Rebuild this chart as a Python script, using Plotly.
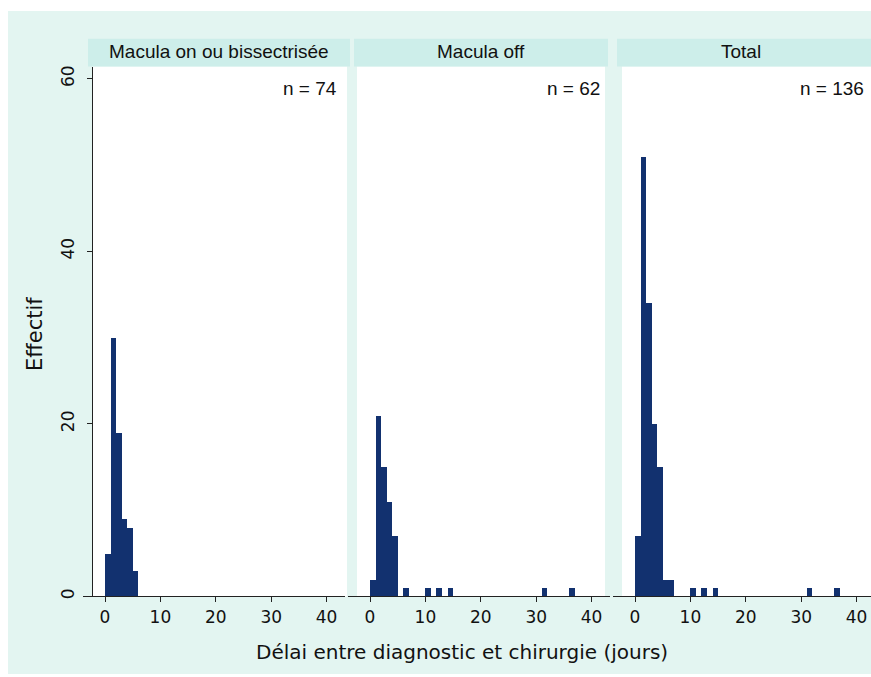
import plotly.graph_objects as go

# ---- data (bins of 1 day, value = bin start) ----
panel_titles = ["Macula on ou bissectrisée", "Macula off", "Total"]
n_labels = ["n = 74", "n = 62", "n = 136"]

on_days = [0, 1, 2, 3, 4, 5]
on_counts = [5, 30, 19, 9, 8, 3]

off_days = [0, 1, 2, 3, 4, 6, 10, 12, 14, 31, 36]
off_counts = [2, 21, 15, 11, 7, 1, 1, 1, 1, 1, 1]

tot_days = [0, 1, 2, 3, 4, 5, 6, 10, 12, 14, 31, 36]
tot_counts = [7, 51, 34, 20, 15, 2, 2, 1, 1, 1, 1, 1]

x_ticks = [0, 10, 20, 30, 40]
y_ticks = [0, 20, 40, 60]

# ---- layout: positions in reference pixels ----
W, H = 871, 677
BG = "#e3f5f1"
STRIP = "#cdeeea"
NAVY = "#12316f"
FONT = "DejaVu Sans, Liberation Sans, Arial, sans-serif"
FONT2 = "Liberation Sans, Arial, sans-serif"

def px(x):
    return min(1, x / W)

def py(y):
    return max(0, 1 - y / H)

ppu = 5.54  # pixels per day
zero_px = [105, 370, 635]
dom_px = [(83, 345), (348, 610), (613, 871)]
white_px = [(92, 347), (357, 605), (622, 871)]
strip_px = [(88, 350), (354, 608), (617, 871)]
title_cx = [219, 481, 741]
n_right = [339, 602, 866]
y_top, y_bot = 66, 599
ppy = 8.68

fig = go.Figure()
series = [(on_days, on_counts), (off_days, off_counts), (tot_days, tot_counts)]
for i, (d, c) in enumerate(series):
    suffix = "" if i == 0 else str(i + 1)
    fig.add_trace(go.Bar(
        x=[v + 0.5 for v in d], y=c, width=1,
        marker=dict(color=NAVY, line=dict(width=0)),
        xaxis="x" + suffix, yaxis="y" + suffix, showlegend=False,
    ))

ymax = (y_bot - y_top) / ppy
layout = dict(
    width=W, height=H, margin=dict(l=0, r=0, t=0, b=0),
    paper_bgcolor="white", plot_bgcolor="rgba(0,0,0,0)",
    bargap=0, font=dict(family=FONT, color="#111"),
)
shapes = [dict(type="rect", xref="paper", yref="paper", x0=px(8), x1=1, y0=0, y1=py(10),
               fillcolor=BG, line=dict(width=0), layer="below")]
annotations = []
for i in range(3):
    suffix = "" if i == 0 else str(i + 1)
    d0, d1 = dom_px[i]
    xr = [(d0 - zero_px[i]) / ppu, (d1 - zero_px[i]) / ppu]
    layout["xaxis" + suffix] = dict(
        domain=[px(d0), px(d1)], range=xr, anchor="y" + suffix,
        tickvals=x_ticks, ticks="outside", ticklen=5, tickwidth=1, tickcolor="#222",
        showline=True, linecolor="#222", linewidth=1, showgrid=False, zeroline=False,
        tickfont=dict(size=17, family=FONT, color="#111"),
    )
    yax = dict(domain=[py(y_bot), py(y_top)], range=[0, ymax], showgrid=False, zeroline=False)
    if i == 0:
        yax.update(anchor="free", position=px(92), tickvals=y_ticks, ticks="outside", ticklen=5,
                   tickwidth=1, tickcolor="#222", showline=True, linecolor="#222", linewidth=1,
                   tickangle=-90, ticklabelstandoff=6,
                   tickfont=dict(size=17, family=FONT, color="#111"))
    else:
        yax.update(matches="y", anchor="x" + suffix, showticklabels=False, showline=False, ticks="")
    layout["yaxis" + suffix] = yax

    w0, w1 = white_px[i]
    shapes.append(dict(type="rect", xref="paper", yref="paper", x0=px(w0), x1=px(w1),
                       y0=py(y_bot), y1=py(y_top), fillcolor="white", line=dict(width=0), layer="below"))
    s0, s1 = strip_px[i]
    shapes.append(dict(type="rect", xref="paper", yref="paper", x0=px(s0), x1=px(s1),
                       y0=py(66), y1=py(38), fillcolor=STRIP, line=dict(width=0), layer="below"))
    annotations.append(dict(text=panel_titles[i], xref="paper", yref="paper", x=px(title_cx[i]), y=py(51),
                            xanchor="center", yanchor="middle", showarrow=False,
                            font=dict(size=19, family=FONT2, color="#111")))
    annotations.append(dict(text=n_labels[i], xref="paper", yref="paper", x=px(n_right[i]), y=py(88),
                            xanchor="right", yanchor="middle", showarrow=False,
                            font=dict(size=19, family=FONT2, color="#111")))

annotations.append(dict(text="Délai entre diagnostic et chirurgie (jours)", xref="paper", yref="paper",
                        x=px(462), y=py(655), xanchor="center", yanchor="middle", showarrow=False,
                        font=dict(size=20, family=FONT, color="#111")))
annotations.append(dict(text="Effectif", xref="paper", yref="paper", x=px(35), y=py(335),
                        xanchor="center", yanchor="middle", showarrow=False, textangle=-90,
                        font=dict(size=21, family=FONT, color="#111")))
layout["shapes"] = shapes
layout["annotations"] = annotations
fig.update_layout(**layout)
fig.write_html("out.html", config={"displayModeBar": False},
               post_script="document.body.style.margin='0';document.body.style.overflow='hidden';")
